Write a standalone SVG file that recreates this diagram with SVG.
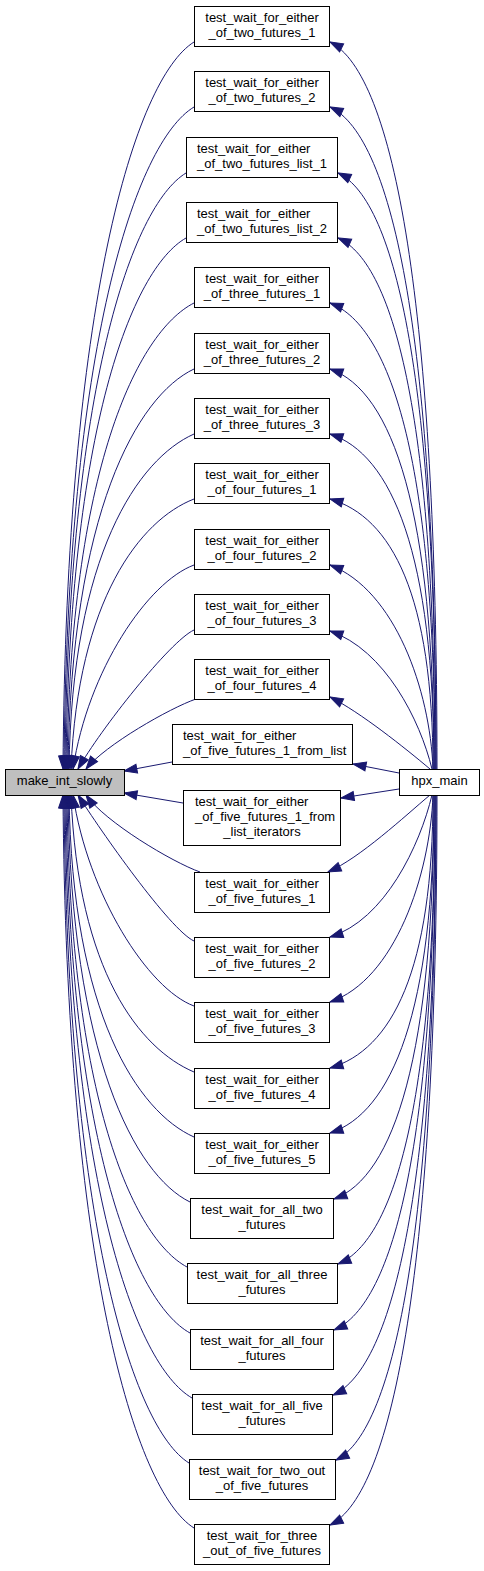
<svg xmlns="http://www.w3.org/2000/svg" width="484" height="1571" viewBox="0 0 484 1571">
<defs>
<style>
.n rect{fill:#fff;stroke:#000;stroke-width:1}
.n.g rect{fill:#bfbfbf}
text{font-family:"Liberation Sans",Arial,sans-serif;font-size:13px;fill:#000}
.m{text-anchor:middle}
#edges path{fill:none;stroke:#191970;stroke-width:1;marker-end:url(#a)}
</style>
<marker id="a" viewBox="0 0 13 10" refX="13" refY="5" markerWidth="13" markerHeight="10" markerUnits="userSpaceOnUse" orient="auto" style="overflow:visible">
<path d="M0,0.5 L13,5 L0,9.5 z" fill="#191970" stroke="#191970" stroke-width="1"/>
</marker>
</defs>
<rect x="0" y="0" width="484" height="1571" fill="#fff"/>
<g id="edges">
<path d="M194,42 C135,79 66,304 63,769"/>
<path d="M194,107 C136,142 67,345 64,769"/>
<path d="M186,173 C132,206 68,388 65,769"/>
<path d="M186,238 C132,269 69,429 66,769"/>
<path d="M194,303 C137,332 70,471 67,769"/>
<path d="M194,369 C137,396 71,513 68,769"/>
<path d="M194,434 C138,459 72,555 69,769"/>
<path d="M194,499 C140,520 78,600 71,769"/>
<path d="M194,565 C148,582 88,670 73,769"/>
<path d="M194,630 C170,641 100,730 78,769"/>
<path d="M196,699 C170,708 105,745 86,769"/>
<path d="M172,762 L124,771"/>
<path d="M183,803 L124,793"/>
<path d="M200,872 C172,862 105,822 86,795"/>
<path d="M194,941 C170,930 100,830 78,795"/>
<path d="M194,1006 C148,989 88,895 73,795"/>
<path d="M194,1072 C140,1049 78,972 71,795"/>
<path d="M194,1137 C138,1112 72,1014 69,795"/>
<path d="M190,1202 C135,1175 71,1055 68,795"/>
<path d="M187,1267 C133,1238 70,1097 67,795"/>
<path d="M190,1333 C134,1302 69,1139 66,795"/>
<path d="M192,1398 C135,1365 68,1181 65,795"/>
<path d="M189,1463 C133,1428 67,1223 64,795"/>
<path d="M194,1528 C135,1491 66,1264 63,795"/>
<path d="M437,769 C437,304 394,74 330,42"/>
<path d="M436,769 C436,345 394,137 330,107"/>
<path d="M436,769 C436,388 397,201 338,173"/>
<path d="M435,769 C435,429 396,264 338,238"/>
<path d="M435,769 C435,471 393,327 330,303"/>
<path d="M434,769 C434,513 393,391 330,369"/>
<path d="M434,769 C434,555 392,454 330,434"/>
<path d="M433,769 C433,596 392,517 330,499"/>
<path d="M433,769 C430,690 395,590 330,565"/>
<path d="M432,769 C420,720 385,650 330,631"/>
<path d="M430,769 C405,748 360,712 330,697"/>
<path d="M399,773 L353,764"/>
<path d="M399,789 L341,798"/>
<path d="M430,795 C405,816 360,858 328,872"/>
<path d="M432,795 C420,845 385,920 330,937"/>
<path d="M433,795 C430,875 395,980 330,1002"/>
<path d="M433,795 C433,970 392,1050 330,1068"/>
<path d="M434,795 C434,1011 392,1113 330,1133"/>
<path d="M434,795 C434,1054 394,1177 334,1199"/>
<path d="M435,795 C435,1095 396,1240 338,1264"/>
<path d="M435,795 C435,1137 395,1304 334,1330"/>
<path d="M436,795 C436,1179 395,1367 333,1395"/>
<path d="M436,795 C436,1221 396,1430 336,1460"/>
<path d="M437,795 C437,1262 394,1493 330,1525"/>
</g>
<g id="make_int_slowly" class="n g"><rect x="5.5" y="769.5" width="119" height="26"/><text class="m" x="64.5" y="785">make_int_slowly</text></g>
<g id="hpx_main" class="n"><rect x="399.5" y="769.5" width="80" height="26"/><text class="m" x="439.5" y="785">hpx_main</text></g>
<g id="n1" class="n"><rect x="194.5" y="6.5" width="135" height="40"/><text class="m" x="262" y="22">test_wait_for_either</text><text class="m" x="262" y="37">_of_two_futures_1</text></g>
<g id="n2" class="n"><rect x="194.5" y="71.5" width="135" height="40"/><text class="m" x="262" y="87">test_wait_for_either</text><text class="m" x="262" y="102">_of_two_futures_2</text></g>
<g id="n3" class="n"><rect x="186.5" y="137.5" width="151" height="40"/><text x="197" y="153">test_wait_for_either</text><text x="197" y="168">_of_two_futures_list_1</text></g>
<g id="n4" class="n"><rect x="186.5" y="202.5" width="151" height="40"/><text x="197" y="218">test_wait_for_either</text><text x="197" y="233">_of_two_futures_list_2</text></g>
<g id="n5" class="n"><rect x="194.5" y="267.5" width="135" height="40"/><text class="m" x="262" y="283">test_wait_for_either</text><text class="m" x="262" y="298">_of_three_futures_1</text></g>
<g id="n6" class="n"><rect x="194.5" y="333.5" width="135" height="40"/><text class="m" x="262" y="349">test_wait_for_either</text><text class="m" x="262" y="364">_of_three_futures_2</text></g>
<g id="n7" class="n"><rect x="194.5" y="398.5" width="135" height="40"/><text class="m" x="262" y="414">test_wait_for_either</text><text class="m" x="262" y="429">_of_three_futures_3</text></g>
<g id="n8" class="n"><rect x="194.5" y="463.5" width="135" height="40"/><text class="m" x="262" y="479">test_wait_for_either</text><text class="m" x="262" y="494">_of_four_futures_1</text></g>
<g id="n9" class="n"><rect x="194.5" y="529.5" width="135" height="40"/><text class="m" x="262" y="545">test_wait_for_either</text><text class="m" x="262" y="560">_of_four_futures_2</text></g>
<g id="n10" class="n"><rect x="194.5" y="594.5" width="135" height="40"/><text class="m" x="262" y="610">test_wait_for_either</text><text class="m" x="262" y="625">_of_four_futures_3</text></g>
<g id="n11" class="n"><rect x="194.5" y="659.5" width="135" height="40"/><text class="m" x="262" y="675">test_wait_for_either</text><text class="m" x="262" y="690">_of_four_futures_4</text></g>
<g id="n12" class="n"><rect x="172.5" y="724.5" width="180" height="40"/><text x="183" y="740">test_wait_for_either</text><text x="183" y="755">_of_five_futures_1_from_list</text></g>
<g id="n13" class="n"><rect x="183.5" y="790.5" width="157" height="55"/><text x="195" y="806">test_wait_for_either</text><text x="195" y="821">_of_five_futures_1_from</text><text class="m" x="262" y="836">_list_iterators</text></g>
<g id="n14" class="n"><rect x="194.5" y="872.5" width="135" height="40"/><text class="m" x="262" y="888">test_wait_for_either</text><text class="m" x="262" y="903">_of_five_futures_1</text></g>
<g id="n15" class="n"><rect x="194.5" y="937.5" width="135" height="40"/><text class="m" x="262" y="953">test_wait_for_either</text><text class="m" x="262" y="968">_of_five_futures_2</text></g>
<g id="n16" class="n"><rect x="194.5" y="1002.5" width="135" height="40"/><text class="m" x="262" y="1018">test_wait_for_either</text><text class="m" x="262" y="1033">_of_five_futures_3</text></g>
<g id="n17" class="n"><rect x="194.5" y="1068.5" width="135" height="40"/><text class="m" x="262" y="1084">test_wait_for_either</text><text class="m" x="262" y="1099">_of_five_futures_4</text></g>
<g id="n18" class="n"><rect x="194.5" y="1133.5" width="135" height="40"/><text class="m" x="262" y="1149">test_wait_for_either</text><text class="m" x="262" y="1164">_of_five_futures_5</text></g>
<g id="n19" class="n"><rect x="190.5" y="1198.5" width="143" height="40"/><text class="m" x="262" y="1214">test_wait_for_all_two</text><text class="m" x="262" y="1229">_futures</text></g>
<g id="n20" class="n"><rect x="187.5" y="1263.5" width="150" height="40"/><text class="m" x="262" y="1279">test_wait_for_all_three</text><text class="m" x="262" y="1294">_futures</text></g>
<g id="n21" class="n"><rect x="190.5" y="1329.5" width="143" height="40"/><text class="m" x="262" y="1345">test_wait_for_all_four</text><text class="m" x="262" y="1360">_futures</text></g>
<g id="n22" class="n"><rect x="192.5" y="1394.5" width="140" height="40"/><text class="m" x="262" y="1410">test_wait_for_all_five</text><text class="m" x="262" y="1425">_futures</text></g>
<g id="n23" class="n"><rect x="189.5" y="1459.5" width="146" height="40"/><text class="m" x="262" y="1475">test_wait_for_two_out</text><text class="m" x="262" y="1490">_of_five_futures</text></g>
<g id="n24" class="n"><rect x="194.5" y="1524.5" width="135" height="40"/><text class="m" x="262" y="1540">test_wait_for_three</text><text class="m" x="262" y="1555">_out_of_five_futures</text></g>
</svg>
